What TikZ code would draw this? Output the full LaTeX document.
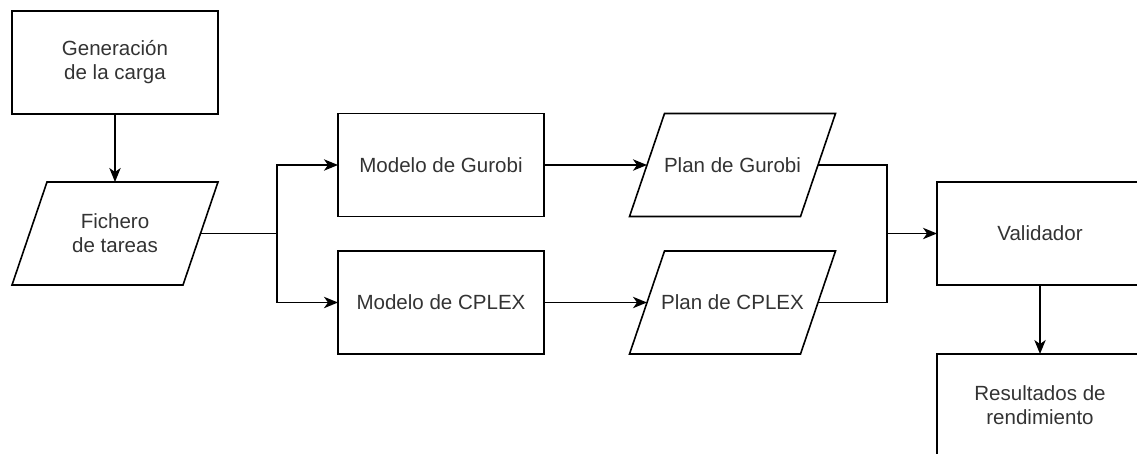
\documentclass[tikz,border=0pt]{standalone}
\usepackage{fontspec}
\setmainfont{Liberation Sans}
\usetikzlibrary{arrows.meta}
\definecolor{txt}{HTML}{333333}
\newcommand{\paraoutline}[1]{%
  \draw[line width=1.2pt] ([xshift=-13.125pt]#1.south west) -- ([xshift=13.125pt]#1.north west) -- ([xshift=13.125pt]#1.north east) -- ([xshift=-13.125pt]#1.south east) -- cycle;}
\begin{document}
\begin{tikzpicture}[x=0.75pt,y=-0.75pt,
  every node/.style={font=\fontsize{15.4}{18}\selectfont, text=txt, align=center, inner sep=0pt, outer sep=0pt},
  box/.style={draw=black, rectangle, minimum width=154.5pt, minimum height=77.25pt, line width=1.2pt},
  para/.style={rectangle, minimum width=128.25pt, minimum height=77.25pt},
  conn/.style={line width=1.2pt, draw=black},
  arr/.style={conn, -{Stealth[length=10.5pt,width=8.5pt,inset=3pt]}}]
\clip (0,0) rectangle (1137,453);
\useasboundingbox (0,0) rectangle (1137,453);
\node[box] (gen) at (115,62.5) {Generación\\de la carga};
\node[para] (fich) at (115,233.5) {Fichero\\de tareas};
\node[box] (mg) at (441,165) {Modelo de Gurobi};
\node[box] (mc) at (441,302.5) {Modelo de CPLEX};
\node[para] (pg) at (732.5,165) {Plan de Gurobi};
\node[para] (pc) at (732.5,302.5) {Plan de CPLEX};
\node[box] (val) at (1040,233.5) {Validador};
\node[box] (res) at (1040,405.5) {Resultados de\\rendimiento};
\paraoutline{fich}
\paraoutline{pg}
\paraoutline{pc}
\coordinate (j1) at (277,233.5);
\coordinate (j2) at (887,233.5);
\draw[arr] (gen.south) -- (gen.south |- fich.north);
\draw[conn] (fich.east) -- (j1);
\draw[arr] (j1) |- (mg.west);
\draw[arr] (j1) |- (mc.west);
\draw[arr] (mg.east) -- (pg.west);
\draw[arr] (mc.east) -- (pc.west);
\draw[conn] (pg.east) -| (j2);
\draw[conn] (pc.east) -| (j2);
\draw[arr] (j2) -- (val.west);
\draw[arr] (val.south) -- (res.north);
\end{tikzpicture}
\end{document}
